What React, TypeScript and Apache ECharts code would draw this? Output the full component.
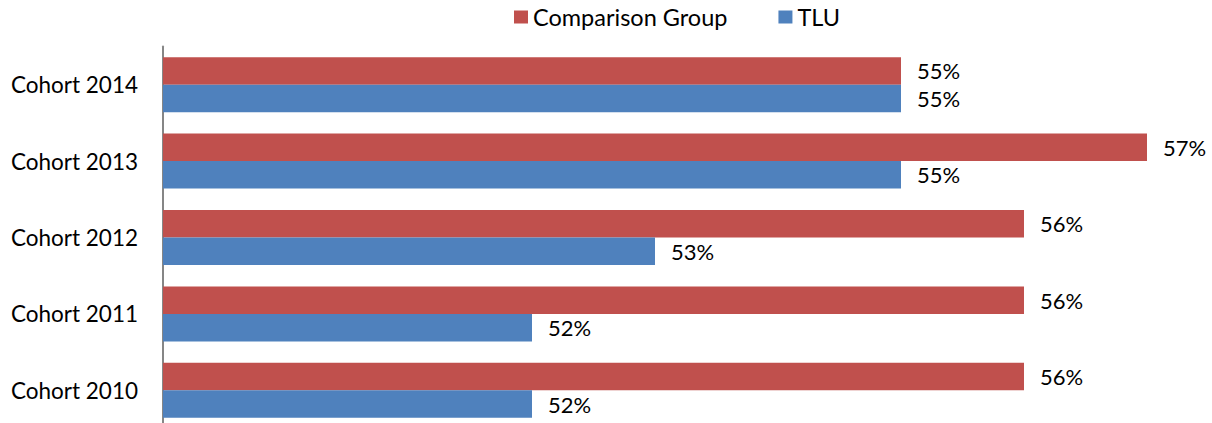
import React, { useEffect, useRef } from "react";
import * as echarts from "echarts";

const categories = ["Cohort 2014", "Cohort 2013", "Cohort 2012", "Cohort 2011", "Cohort 2010"];
const comparisonGroup = [55, 57, 56, 56, 56];
const tlu = [55, 55, 53, 52, 52];
const seriesNames = ["Comparison Group", "TLU"];

const FONT = "Lato";

export default function App() {
  const ref = useRef<HTMLDivElement>(null);
  useEffect(() => {
    document.body.style.margin = "0";
    document.body.style.overflow = "hidden";
    document.documentElement.style.overflow = "hidden";
    const chart = echarts.init(ref.current!, undefined, { renderer: "svg" });
    const label = {
      show: true,
      position: "right" as const,
      distance: 16,
      formatter: "{c}%",
      color: "#000",
      fontFamily: FONT,
      fontSize: 22,
    };
    chart.setOption({
      animation: false,
      textStyle: { fontFamily: FONT },
      legend: {
        left: 509,
        top: 0,
        itemWidth: 14,
        itemHeight: 13,
        itemGap: 51,
        icon: "rect",
        textStyle: { fontFamily: FONT, fontSize: 23.5, color: "#000" },
        data: seriesNames,
      },
      grid: { left: 163, top: 46.5, height: 382, width: 1045.5 },
      xAxis: {
        type: "value",
        min: 49,
        max: 57.5,
        show: false,
        splitLine: { show: false },
      },
      yAxis: {
        type: "category",
        inverse: true,
        data: categories,
        axisTick: { show: false },
        axisLine: { lineStyle: { color: "#868686", width: 2 } },
        axisLabel: { margin: 25, color: "#000", fontFamily: FONT, fontSize: 22.5 },
      },
      series: [
        {
          name: seriesNames[0],
          type: "bar",
          data: comparisonGroup,
          itemStyle: { color: "#C0504D" },
          barGap: "0%",
          barCategoryGap: "28%",
          label,
        },
        {
          name: seriesNames[1],
          type: "bar",
          data: tlu,
          itemStyle: { color: "#4F81BD" },
          barGap: "0%",
          barCategoryGap: "28%",
          label,
        },
      ],
    });
    return () => chart.dispose();
  }, []);
  return <div ref={ref} style={{ width: 1212, height: 440 }} />;
}
